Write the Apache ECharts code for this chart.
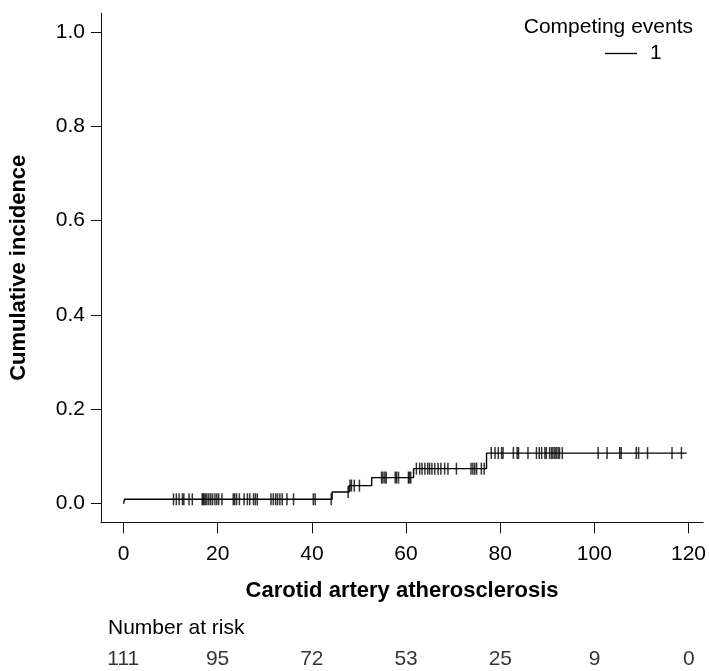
<!DOCTYPE html>
<html><head><meta charset="utf-8">
<script src="https://cdn.jsdelivr.net/npm/echarts@6/dist/echarts.min.js"></script>
<style>html,body{margin:0;padding:0;background:#fff}#c{width:709px;height:671px}</style>
</head><body><div id="c"></div>
<script>
// ---- data ----
const eventTimes  = [0, 0.2, 44.3, 47.9, 52.7, 61.6, 77.1, 119.6];
const eventValues = [0, 0.009, 0.0245, 0.038, 0.055, 0.074, 0.107, 0.107];
const censorTimes = [
  10.6, 11.2, 11.8, 12.5, 12.8, 13.9, 14.6, 16.7, 16.9, 17.1, 17.4, 17.7, 18.1, 18.5, 18.9,
  19.4, 19.8, 20.2, 20.9, 23.3, 23.6, 24.0, 24.6, 25.6, 26.3, 26.8, 27.6, 28.0, 28.4,
  31.3, 31.8, 32.3, 32.7, 33.2, 33.7, 34.7, 36.1, 40.3, 40.7, 44.1,
  47.7, 48.1, 48.4, 49.0, 50.1,
  54.8, 55.1, 55.5, 55.8, 57.7, 58.0, 58.4, 60.5, 60.7, 61.0,
  62.2, 62.9, 63.4, 64.0, 64.6, 65.0, 65.5, 66.1, 66.8, 67.4, 68.2, 68.9, 70.7,
  73.8, 74.2, 74.6, 75.0, 76.0, 76.6,
  78.1, 78.9, 79.6, 80.3, 80.6, 82.8, 83.6, 83.9, 85.9, 87.7, 88.3, 88.8, 89.5, 89.8,
  90.5, 90.9, 91.2, 91.6, 91.9, 92.3, 92.6, 93.2, 100.8, 102.7, 105.4, 105.7,
  108.9, 109.4, 111.3, 116.5, 118.5
];
const xTicks = [0, 20, 40, 60, 80, 100, 120];
const yTicks = [0, 0.2, 0.4, 0.6, 0.8, 1.0];
const riskTimes  = [0, 20, 40, 60, 80, 100, 120];
const riskCounts = [111, 95, 72, 53, 25, 9, 0];
const seriesName  = '1';
const legendTitle = 'Competing events';
const xTitle = 'Carotid artery atherosclerosis';
const yTitle = 'Cumulative incidence';
const riskTitle = 'Number at risk';

function levelAt(t) {
  let v = 0;
  for (let i = 0; i < eventTimes.length; i++) if (eventTimes[i] <= t) v = eventValues[i];
  return v;
}

const FONT = "'Liberation Sans', Arial, sans-serif";
const chart = echarts.init(document.getElementById('c'), null, {renderer: 'canvas'});
const X_MIN = -4.8, X_MAX = 123.1;
const G_LEFT = 100.7, G_RIGHT = 5.5;

chart.setOption({
  animation: false,
  backgroundColor: '#fff',
  textStyle: {fontFamily: FONT, color: '#000'},
  grid: [
    {left: G_LEFT, right: G_RIGHT, top: 13.1, bottom: 148.6},
    {left: G_LEFT, right: G_RIGHT, top: 648, height: 28}
  ],
  xAxis: [
    {
      type: 'value', gridIndex: 0, min: X_MIN, max: X_MAX,
      axisLine: {show: true, onZero: false, lineStyle: {color: '#111', width: 1}},
      axisTick: {show: true, length: 11, customValues: xTicks, lineStyle: {color: '#111'}},
      axisLabel: {customValues: xTicks, fontSize: 21, color: '#000', margin: 21, fontFamily: FONT},
      splitLine: {show: false},
      name: xTitle, nameLocation: 'middle', nameGap: 58,
      nameTextStyle: {fontSize: 22, fontWeight: 'bold', color: '#000', fontFamily: FONT}
    },
    {
      type: 'value', gridIndex: 1, min: X_MIN, max: X_MAX, show: false
    }
  ],
  yAxis: [
    {
      type: 'value', gridIndex: 0, min: -0.04, max: 1.04,
      axisLine: {show: true, onZero: false, lineStyle: {color: '#111', width: 1}},
      axisTick: {show: true, length: 10, customValues: yTicks, lineStyle: {color: '#111'}},
      axisLabel: {customValues: yTicks, fontSize: 21, color: '#000', margin: 16,
                  formatter: v => v.toFixed(1), fontFamily: FONT},
      splitLine: {show: false},
      name: yTitle, nameLocation: 'middle', nameGap: 71,
      nameTextStyle: {fontSize: 22, fontWeight: 'bold', color: '#000', fontFamily: FONT}
    },
    {type: 'value', gridIndex: 1, min: 0, max: 1, show: false}
  ],
  legend: {
    data: [{name: seriesName, icon: 'rect'}],
    left: 605, top: 43, padding: 0,
    itemWidth: 32, itemHeight: 1.3,
    textStyle: {fontSize: 21, color: '#000', padding: [0, 0, 0, 8], fontFamily: FONT},
    selectedMode: false
  },
  graphic: [
    {type: 'text', right: 16, top: 17,
     style: {text: legendTitle, font: '21px ' + FONT, fill: '#000'}},
    {type: 'text', left: 108, top: 618,
     style: {text: riskTitle, font: '21px ' + FONT, fill: '#000'}}
  ],
  series: [
    {
      name: seriesName, type: 'line', xAxisIndex: 0, yAxisIndex: 0,
      data: eventTimes.map((t, i) => [t, eventValues[i]]),
      step: 'end', showSymbol: false, symbol: 'none',
      lineStyle: {color: '#000', width: 1.4},
      itemStyle: {color: '#000'}, silent: true
    },
    {
      name: 'censor', type: 'scatter', xAxisIndex: 0, yAxisIndex: 0,
      data: censorTimes.map(t => [t, levelAt(t)]),
      symbol: 'rect', symbolSize: [1.5, 12],
      itemStyle: {color: '#000'}, silent: true
    },
    {
      name: 'risk', type: 'scatter', xAxisIndex: 1, yAxisIndex: 1,
      data: riskTimes.map((t, i) => [t, 0.5]),
      symbolSize: 0, silent: true,
      label: {show: true, position: 'inside', fontSize: 21, color: '#000', fontFamily: FONT,
              formatter: p => String(riskCounts[p.dataIndex])}
    }
  ]
});
</script>
</body></html>
